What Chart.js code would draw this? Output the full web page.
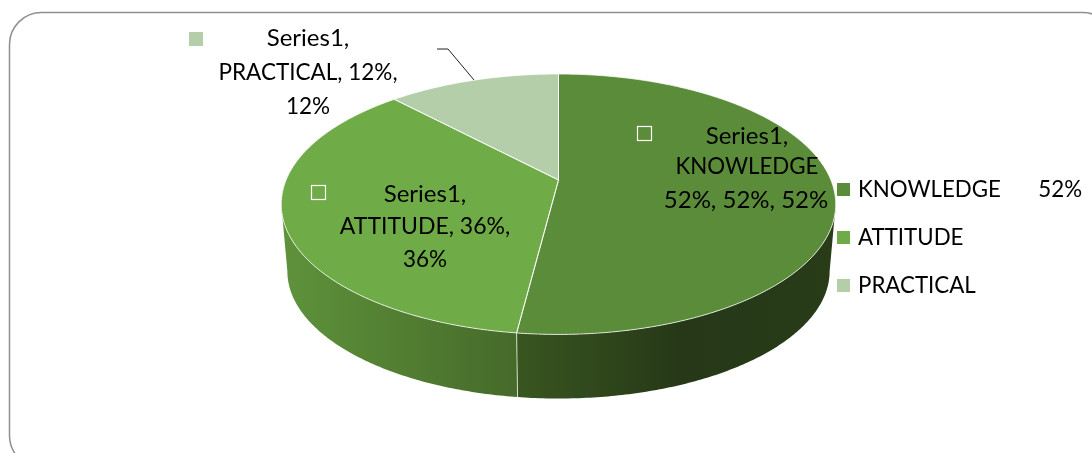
<!DOCTYPE html>
<html>
<head>
<meta charset="utf-8">
<script src="https://cdn.jsdelivr.net/npm/chart.js@4"></script>
<style>
    html, body { margin: 0; padding: 0; background: #fff; overflow: hidden; }
    canvas { display: block; }
</style>
</head>
<body>
<canvas id="chart" width="1092" height="453"></canvas>
<script>
const categories = ['KNOWLEDGE', 'ATTITUDE', 'PRACTICAL'];
const shares = [52, 36, 12];
const sliceColors = ['#5b8c3a', '#6fac47', '#b3cea8'];
const legendValues = ['52%', '', ''];
const labelLines = [
    ['Series1,', 'KNOWLEDGE', '52%, 52%, 52%'],
    ['Series1,', 'ATTITUDE, 36%,', '36%'],
    ['Series1,', 'PRACTICAL, 12%,', '12%']
];

const FONT = '22.3px Lato';

// Perspective of the tilted disc: the centre of the circle sits above the middle of the ellipse
const TILT = -0.186;
const HALF_W = 272.4;
const HALF_H = 125.7;
// Bottom rim of the disc, slightly smaller because it is further from the viewer
const BASE_SCALE = 0.978;
const BASE_DROP = 67.5;
// Part of the rim that faces the viewer, in radians clockwise from the top
const FRONT_FROM = 100.7 * Math.PI / 180;
const FRONT_TO = 259.3 * Math.PI / 180;

function project(arc, theta, scale, drop) {
    const u = Math.sin(theta);
    const v = -Math.cos(theta);
    const d = 1 + TILT * v;
    return {
        x: arc.x + scale * HALF_W * u / d,
        y: arc.y + drop + scale * HALF_H * v / d
    };
}

function rimPoints(arc, from, to, scale, drop) {
    const pts = [];
    const steps = Math.max(2, Math.ceil((to - from) * 90));
    for (let i = 0; i <= steps; i++) {
        pts.push(project(arc, from + (to - from) * i / steps, scale, drop));
    }
    return pts;
}

function wallGradient(ctx, index) {
    const g = ctx.createLinearGradient(285, 0, 835, 0);
    if (index === 0) {
        g.addColorStop(0.42, '#39561f');
        g.addColorStop(0.72, '#263818');
        g.addColorStop(1, '#283c18');
    } else {
        g.addColorStop(0, '#5e923a');
        g.addColorStop(0.42, '#466a2a');
    }
    return g;
}

function drawWalls(ctx, arcs) {
    arcs.forEach((arc, i) => {
        const from = Math.max(arc.startAngle + Math.PI / 2, FRONT_FROM);
        const to = Math.min(arc.endAngle + Math.PI / 2, FRONT_TO);
        if (to <= from) return;
        const top = rimPoints(arc, from, to, 1, 0);
        const base = rimPoints(arc, from, to, BASE_SCALE, BASE_DROP).reverse();
        ctx.beginPath();
        top.concat(base).forEach((p, n) => n ? ctx.lineTo(p.x, p.y) : ctx.moveTo(p.x, p.y));
        ctx.closePath();
        ctx.fillStyle = wallGradient(ctx, i);
        ctx.fill();
        // seam where two slices meet on the wall
        if (arc.startAngle + Math.PI / 2 > FRONT_FROM) {
            ctx.beginPath();
            ctx.moveTo(top[0].x, top[0].y);
            ctx.lineTo(base[base.length - 1].x, base[base.length - 1].y);
            ctx.strokeStyle = 'rgba(255,255,255,0.7)';
            ctx.lineWidth = 1;
            ctx.stroke();
        }
    });
}

function drawTop(ctx, arcs) {
    arcs.forEach((arc, i) => {
        const from = arc.startAngle + Math.PI / 2;
        const to = arc.endAngle + Math.PI / 2;
        ctx.beginPath();
        ctx.moveTo(arc.x, arc.y);
        rimPoints(arc, from, to, 1, 0).forEach(p => ctx.lineTo(p.x, p.y));
        ctx.closePath();
        ctx.fillStyle = sliceColors[i];
        ctx.fill();
    });
    arcs.forEach(arc => {
        const from = arc.startAngle + Math.PI / 2;
        const to = arc.endAngle + Math.PI / 2;
        ctx.beginPath();
        ctx.moveTo(arc.x, arc.y);
        rimPoints(arc, from, to, 1, 0).forEach(p => ctx.lineTo(p.x, p.y));
        ctx.closePath();
        ctx.strokeStyle = 'rgba(255,255,255,0.75)';
        ctx.lineWidth = 1;
        ctx.stroke();
    });
}

function drawLabels(ctx) {
    ctx.fillStyle = '#000';
    ctx.textAlign = 'center';
    ctx.textBaseline = 'middle';

    // anchor and font size of every text line, same order as labelLines
    // Lato runs narrower than the original face on lower case and digits, hence the sizes
    const anchors = [
        [[747, 136, 24], [747, 167, 22.3], [746, 200, 24]],
        [[425, 194, 24], [425, 227, 23], [425, 260, 22.5]],
        [[308, 38, 24], [308, 73, 22.5], [308, 107, 22.5]]
    ];
    labelLines.forEach((lines, i) => {
        lines.forEach((line, n) => {
            const a = anchors[i][n];
            ctx.font = a[2] + 'px Lato';
            ctx.fillText(line, a[0], a[1]);
        });
    });

    // legend keys inside the labels
    ctx.lineWidth = 1.2;
    ctx.strokeStyle = '#fff';
    ctx.strokeRect(637.5, 126.5, 14, 14);
    ctx.strokeRect(311.5, 185.5, 14, 14);
    ctx.fillStyle = sliceColors[2];
    ctx.fillRect(189, 32, 14, 14);

    // leader line of the PRACTICAL label
    ctx.beginPath();
    ctx.moveTo(437, 49);
    ctx.lineTo(448, 49);
    ctx.lineTo(474, 80);
    ctx.strokeStyle = '#222';
    ctx.lineWidth = 1;
    ctx.stroke();
}

function drawLegend(ctx, chart) {
    ctx.font = FONT;
    ctx.textAlign = 'left';
    ctx.textBaseline = 'middle';
    chart.data.labels.forEach((label, i) => {
        const y = 190 + i * 48;
        ctx.fillStyle = sliceColors[i];
        ctx.fillRect(837, y - 7, 13, 13);
        ctx.fillStyle = '#000';
        ctx.fillText(label, 858, y);
        if (legendValues[i]) {
            ctx.textAlign = 'right';
            ctx.fillText(legendValues[i], 1082, y);
            ctx.textAlign = 'left';
        }
    });
}

const tiltedPie = {
    id: 'tiltedPie',
    beforeDraw(chart) {
        const ctx = chart.ctx;
        ctx.save();
        ctx.fillStyle = '#fff';
        ctx.fillRect(0, 0, chart.width, chart.height);
        ctx.beginPath();
        ctx.roundRect(9.5, 12.5, 1105, 455, 32);
        ctx.strokeStyle = '#8f8f8f';
        ctx.lineWidth = 1.5;
        ctx.stroke();
        ctx.restore();
    },
    // the library's flat arcs are replaced by the projected ones, angles still come from its elements
    beforeDatasetsDraw(chart) {
        const ctx = chart.ctx;
        const arcs = chart.getDatasetMeta(0).data;
        ctx.save();
        drawWalls(ctx, arcs);
        drawTop(ctx, arcs);
        drawLabels(ctx);
        drawLegend(ctx, chart);
        ctx.restore();
        return false;
    }
};

new Chart(document.getElementById('chart'), {
    type: 'pie',
    data: {
        labels: categories,
        datasets: [{ data: shares, backgroundColor: sliceColors, borderWidth: 0 }]
    },
    options: {
        responsive: false,
        animation: false,
        layout: { padding: { left: 287, right: 262, top: 0, bottom: 93 } },
        plugins: { legend: { display: false }, tooltip: { enabled: false } }
    },
    plugins: [tiltedPie]
});
</script>
</body>
</html>
